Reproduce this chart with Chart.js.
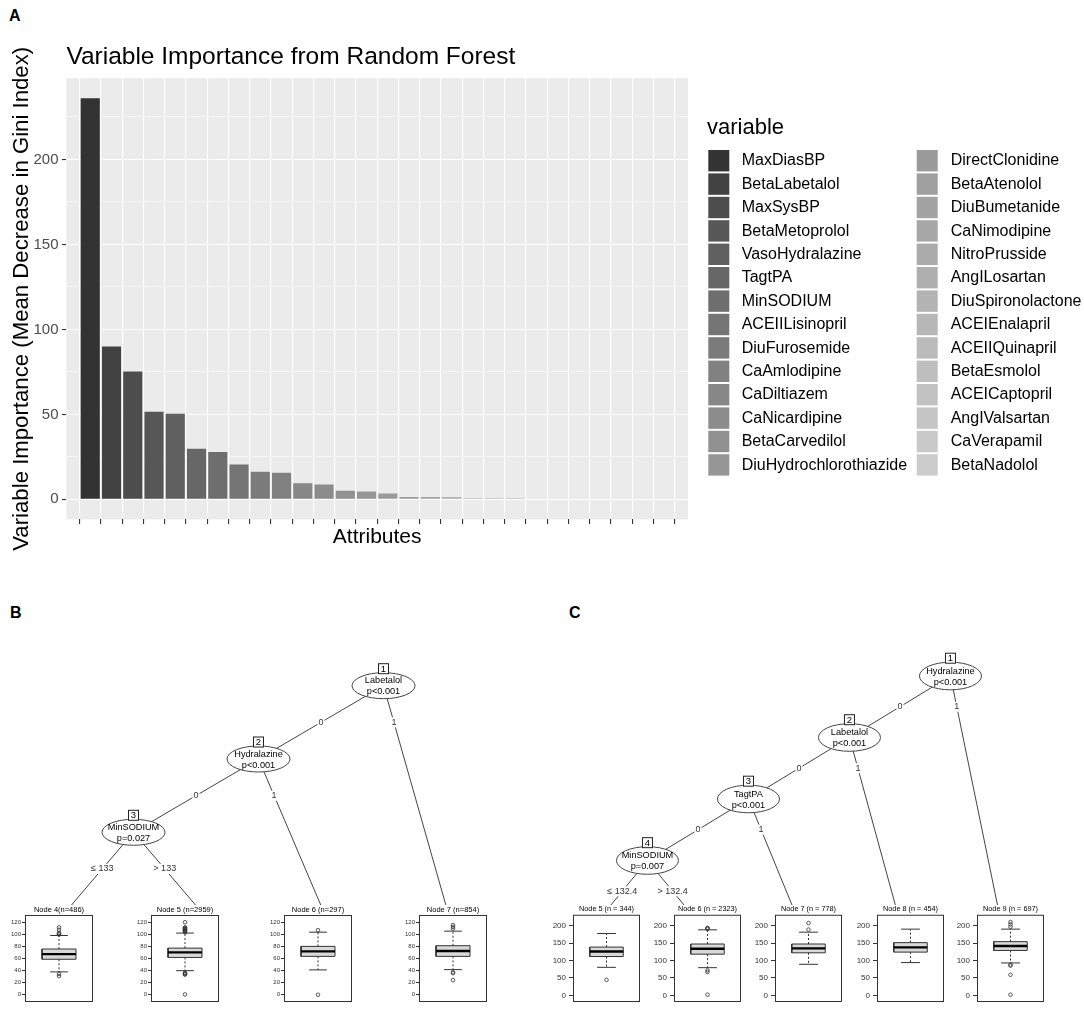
<!DOCTYPE html>
<html>
<head>
<meta charset="utf-8">
<script src="https://cdn.jsdelivr.net/npm/chart.js@4.4.0/dist/chart.umd.min.js"></script>
<style>
  body { margin: 0; background: #fff; width: 1084px; height: 1027px; position: relative; overflow: hidden;
         font-family: "Liberation Sans", Arial, sans-serif; }
  canvas { position: absolute; }
  .panel { position: absolute; font-weight: bold; font-size: 16px; line-height: 16px; color: #000; }
</style>
</head>
<body>
<div class="panel" style="left:9px;top:8px">A</div>
<div class="panel" style="left:10px;top:605px">B</div>
<div class="panel" style="left:569px;top:605px">C</div>
<script>
Chart.defaults.font.family = '"Liberation Sans", Arial, sans-serif';
Chart.defaults.animation = false;

// ---- Panel A data ----
const attributes = [
  'MaxDiasBP', 'BetaLabetalol', 'MaxSysBP', 'BetaMetoprolol', 'VasoHydralazine', 'TagtPA', 'MinSODIUM',
  'ACEIILisinopril', 'DiuFurosemide', 'CaAmlodipine', 'CaDiltiazem', 'CaNicardipine', 'BetaCarvedilol',
  'DiuHydrochlorothiazide', 'DirectClonidine', 'BetaAtenolol', 'DiuBumetanide', 'CaNimodipine',
  'NitroPrusside', 'AngILosartan', 'DiuSpironolactone', 'ACEIEnalapril', 'ACEIIQuinapril', 'BetaEsmolol',
  'ACEICaptopril', 'AngIValsartan', 'CaVerapamil', 'BetaNadolol'
];
const importance = [236, 90, 75.2, 51.6, 50.3, 29.7, 27.8, 20.5, 16.2, 15.6, 9.4, 8.8, 5.1, 4.6, 3.5,
  1.4, 1.4, 1.3, 0.7, 0.7, 0.6, 0, 0, 0, 0, 0, 0, 0];
const gridBreaks = [0, 25, 50, 75, 100, 125, 150, 175, 200, 225];
const labelBreaks = [0, 50, 100, 150, 200];

// ---- Panel B data ----
const nodesB = [
  { id: 1, name: 'Labetalol', p: 'p<0.001', kids: [2, 7], edges: ['0', '1'] },
  { id: 2, name: 'Hydralazine', p: 'p<0.001', kids: [3, 6], edges: ['0', '1'] },
  { id: 3, name: 'MinSODIUM', p: 'p=0.027', kids: [4, 5], edges: ['\u2264 133', '> 133'] }
];
const leafTitlesB = ['Node 4(n=486)', 'Node 5 (n=2959)', 'Node 6 (n=297)', 'Node 7 (n=854)'];
// [lower whisker, q1, median, q3, upper whisker]
const boxStatsB = [
  [38, 59, 67.5, 76, 98.5],
  [40, 62, 70.5, 77.5, 102.5],
  [41.3, 63.8, 72.1, 80.4, 104],
  [41.8, 63.8, 72.6, 81.5, 105.7]
];
const outliersB = [
  [100, 101.5, 103, 108, 112, 34.5, 31],
  [104, 105, 106, 107, 108, 109, 110, 111, 112, 120.5, 36.5, 35.5, 34.5, 33.5, 0.5],
  [107.3, 0],
  [110, 112.8, 116, 37.4, 35.8, 24.2]
];
const yTicksB = [0, 20, 40, 60, 80, 100, 120];

// ---- Panel C data ----
const nodesC = [
  { id: 1, name: 'Hydralazine', p: 'p<0.001', kids: [2, 9], edges: ['0', '1'] },
  { id: 2, name: 'Labetalol', p: 'p<0.001', kids: [3, 8], edges: ['0', '1'] },
  { id: 3, name: 'TagtPA', p: 'p<0.001', kids: [4, 7], edges: ['0', '1'] },
  { id: 4, name: 'MinSODIUM', p: 'p=0.007', kids: [5, 6], edges: ['\u2264 132.4', '> 132.4'] }
];
const leafTitlesC = ['Node 5 (n = 344)', 'Node 6 (n = 2323)', 'Node 7 (n = 778)', 'Node 8 (n = 454)', 'Node 9 (n = 697)'];
const boxStatsC = [
  [80.6, 111.7, 126.2, 138.8, 177.7],
  [79.6, 118.4, 134, 147.6, 188.3],
  [89.3, 122.3, 135, 147.6, 181.6],
  [94.2, 124.3, 137.9, 151.5, 190.3],
  [93.2, 129.1, 141.7, 154.4, 190.3]
];
const outliersC = [
  [44.7],
  [191, 192.5, 194, 71.8, 67, 2],
  [189, 207.8],
  [],
  [197, 204, 210.7, 88.3, 85.4, 59.2, 1.9]
];
const yTicksC = [0, 50, 100, 150, 200];

// --- helpers ---
function makeCanvas(left, top, w, h) {
  const c = document.createElement('canvas');
  c.width = w; c.height = h;
  c.style.left = left + 'px'; c.style.top = top + 'px';
  c.style.width = w + 'px'; c.style.height = h + 'px';
  document.body.appendChild(c);
  return c;
}

// ggplot scale_fill_grey palette
function greyColors(n, start = 0.2, end = 0.8, gamma = 2.2) {
  const a = Math.pow(start, gamma), b = Math.pow(end, gamma);
  return Array.from({ length: n }, (_, i) => {
    const c = Math.round(Math.pow(a + (b - a) * i / (n - 1), 1 / gamma) * 255);
    return `rgb(${c},${c},${c})`;
  });
}
const fills = greyColors(attributes.length);
const yMax = Math.max(...importance);

// --- Panel A ---
const panelBg = {
  id: 'panelBg',
  beforeDraw(chart) {
    const { ctx, chartArea: a } = chart;
    ctx.save();
    ctx.fillStyle = '#ebebeb';
    ctx.fillRect(a.left, a.top, a.width, a.height);
    ctx.restore();
  }
};

const legendPlugin = {
  id: 'varLegend',
  afterDraw(chart) {
    const ctx = chart.ctx;
    const perCol = Math.ceil(attributes.length / 2);
    ctx.save();
    ctx.fillStyle = '#000';
    ctx.font = '22px "Liberation Sans", Arial';
    ctx.textBaseline = 'alphabetic';
    ctx.fillText('variable', 707, 134);
    ctx.font = '16px "Liberation Sans", Arial';
    ctx.textBaseline = 'middle';
    attributes.forEach((name, i) => {
      const col = Math.floor(i / perCol), row = i % perCol;
      const kx = col ? 916.7 : 708.3, ky = 150 + row * 23.4;
      ctx.fillStyle = fills[i];
      ctx.fillRect(kx, ky, 21, 21.4);
      ctx.fillStyle = '#000';
      ctx.fillText(name, col ? 950.7 : 741.7, ky + 10.9);
    });
    ctx.restore();
  }
};

new Chart(makeCanvas(0, 0, 1084, 560), {
  type: 'bar',
  data: {
    datasets: [{
      data: importance.map((v, i) => ({ x: i + 1, y: v })),
      backgroundColor: fills,
      borderWidth: 0,
      categoryPercentage: 1,
      barPercentage: 0.9
    }]
  },
  options: {
    responsive: false,
    layout: { autoPadding: false, padding: { left: 0, right: 1084 - 688, top: 0, bottom: 0 } },
    plugins: {
      legend: { display: false },
      tooltip: { enabled: false },
      title: {
        display: true, text: 'Variable Importance from Random Forest', align: 'start', fullSize: false,
        color: '#000', font: { size: 24.5, weight: 'normal' }, padding: { top: 43, bottom: 5.8 }
      }
    },
    scales: {
      x: {
        type: 'linear', min: 0.4, max: attributes.length + 0.6,
        afterBuildTicks: s => { s.ticks = attributes.map((a, i) => ({ value: i + 1 })); },
        ticks: { callback: () => '', padding: 0 },
        grid: { color: '#fff', lineWidth: 1.1, tickColor: '#333', tickLength: 4.5, tickWidth: 1.1 },
        border: { display: false },
        title: { display: true, text: 'Attributes', color: '#000', font: { size: 21 }, padding: { top: 0, bottom: 10 } },
        afterFit: s => { s.height = 40.6; s.paddingLeft = 0; s.paddingRight = 0; }
      },
      y: {
        min: -0.05 * yMax, max: 1.05 * yMax,
        afterBuildTicks: s => { s.ticks = gridBreaks.map(v => ({ value: v })); },
        ticks: {
          callback: v => labelBreaks.includes(v) ? String(v) : '',
          color: '#4d4d4d', font: { size: 15 }, padding: 3.4
        },
        grid: {
          color: '#fff',
          lineWidth: c => labelBreaks.includes(c.tick.value) ? 1.1 : 0.55,
          tickColor: c => labelBreaks.includes(c.tick.value) ? '#333' : 'rgba(0,0,0,0)',
          tickLength: 4.5, tickWidth: 1.1
        },
        border: { display: false },
        title: {
          display: true, text: 'Variable Importance (Mean Decrease in Gini Index)', color: '#000',
          font: { size: 22.2 }, padding: { top: 8.6, bottom: 0 }
        },
        afterFit: s => { s.width = 66.4; s.paddingTop = 0; s.paddingBottom = 0; }
      }
    }
  },
  plugins: [panelBg, legendPlugin]
});

// --- Trees ---
function layoutTree(inner) {
  const byId = {};
  inner.forEach(n => { byId[n.id] = n; });
  const pos = {};
  let leafCount = 0, maxDepth = 0;
  function walk(id, depth) {
    if (!byId[id]) {
      leafCount++;
      pos[id] = { x: leafCount, depth, leaf: true, first: leafCount, last: leafCount };
      return pos[id];
    }
    const n = byId[id];
    const l = walk(n.kids[0], depth + 1), r = walk(n.kids[1], depth + 1);
    maxDepth = Math.max(maxDepth, depth + 1);
    pos[id] = { x: (l.last + r.first) / 2, depth, first: l.first, last: r.last };
    return pos[id];
  }
  walk(inner[0].id, 0);
  Object.values(pos).forEach(p => { p.y = p.leaf ? maxDepth : p.depth; });
  return pos;
}

function drawTree(canvas, inner, xRange, yRange, rx, ry) {
  const pos = layoutTree(inner);
  const edges = [];
  inner.forEach(n => n.kids.forEach((k, j) => edges.push({ from: pos[n.id], to: pos[k], label: n.edges[j] })));

  const treePlugin = {
    id: 'treeNodes',
    afterDatasetsDraw(chart) {
      const { ctx, scales: { x, y } } = chart;
      ctx.save();
      ctx.font = '9px "Liberation Sans", Arial';
      ctx.textAlign = 'center';
      ctx.textBaseline = 'middle';
      // edge labels sit halfway between the parent level and the next one
      edges.forEach(e => {
        const ly = e.from.depth + 0.5;
        const lx = e.from.x + (e.to.x - e.from.x) * (0.5 / (e.to.y - e.from.y));
        const px = x.getPixelForValue(lx), py = y.getPixelForValue(ly);
        const w = ctx.measureText(e.label).width + 2;
        ctx.fillStyle = '#fff';
        ctx.fillRect(px - w / 2, py - 5, w, 10);
        ctx.fillStyle = '#333';
        ctx.fillText(e.label, px, py);
      });
      // inner nodes
      inner.forEach(n => {
        const cx = x.getPixelForValue(pos[n.id].x), cy = y.getPixelForValue(pos[n.id].y);
        ctx.beginPath();
        ctx.ellipse(cx, cy, rx, ry, 0, 0, Math.PI * 2);
        ctx.fillStyle = '#fff';
        ctx.fill();
        ctx.strokeStyle = '#444';
        ctx.lineWidth = 1;
        ctx.stroke();
        ctx.fillStyle = '#000';
        ctx.font = '9.2px "Liberation Sans", Arial';
        ctx.fillText(n.name, cx, cy - 5);
        ctx.fillText(n.p, cx, cy + 6);
        const by = cy - ry - 4;
        ctx.fillStyle = '#fff';
        ctx.fillRect(cx - 5, by - 5, 10, 10);
        ctx.strokeStyle = '#222';
        ctx.strokeRect(cx - 5, by - 5, 10, 10);
        ctx.fillStyle = '#000';
        ctx.font = '9.5px "Liberation Sans", Arial';
        ctx.fillText(String(n.id), cx, by + 0.5);
      });
      ctx.restore();
    }
  };

  new Chart(canvas, {
    type: 'scatter',
    data: {
      datasets: [
        ...edges.map(e => ({
          type: 'line',
          data: [{ x: e.from.x, y: e.from.y }, { x: e.to.x, y: e.to.y }],
          borderColor: '#444', borderWidth: 1, pointRadius: 0, pointHoverRadius: 0
        })),
        { data: inner.map(n => ({ x: pos[n.id].x, y: pos[n.id].y })), pointRadius: 0, pointHoverRadius: 0 }
      ]
    },
    options: {
      responsive: false,
      layout: { autoPadding: false, padding: 0 },
      plugins: { legend: { display: false }, tooltip: { enabled: false } },
      scales: {
        x: { display: false, min: xRange[0], max: xRange[1] },
        y: { display: false, reverse: true, min: yRange[0], max: yRange[1] }
      }
    },
    plugins: [treePlugin]
  });
}

drawTree(makeCanvas(0, 650, 540, 255), nodesB, [0.432, 4.752], [-0.487, 2.992], 31.5, 13);
drawTree(makeCanvas(540, 650, 544, 255), nodesC, [0.436, 5.822], [-0.423, 3.724], 31, 13.8);

// --- Boxplot leaves ---
const framePlugin = {
  id: 'frame',
  afterDraw(chart) {
    const { ctx, chartArea: a } = chart;
    ctx.save();
    ctx.strokeStyle = '#333';
    ctx.lineWidth = 1;
    ctx.strokeRect(a.left + 0.5, a.top + 0.5, a.width - 1, a.height - 1);
    ctx.restore();
  }
};

function drawLeaf(canvas, title, st, outs, yLim, ticks, o) {
  const [lo, q1, med, q3, hi] = st;
  const seg = (pts, extra) => Object.assign({
    type: 'line', data: pts, borderColor: '#333', borderWidth: 1,
    pointRadius: 0, pointHoverRadius: 0, fill: false
  }, extra);
  new Chart(canvas, {
    type: 'scatter',
    data: {
      datasets: [
        seg([{ x: -0.5, y: med }, { x: 0.5, y: med }], { borderColor: '#000', borderWidth: 2.4 }),
        seg([{ x: -o.cap, y: hi }, { x: o.cap, y: hi }]),
        seg([{ x: -o.cap, y: lo }, { x: o.cap, y: lo }]),
        seg([{ x: 0, y: q3 }, { x: 0, y: hi }], { borderDash: [2, 2] }),
        seg([{ x: 0, y: q1 }, { x: 0, y: lo }], { borderDash: [2, 2] }),
        seg(outs.map(v => ({ x: 0, y: v })), {
          showLine: false, pointRadius: 1.8, pointBorderWidth: 0.8,
          pointBorderColor: '#333', pointBackgroundColor: 'rgba(0,0,0,0)'
        }),
        seg([{ x: -0.5, y: q1 }, { x: 0.5, y: q1 }, { x: 0.5, y: q3 }, { x: -0.5, y: q3 }, { x: -0.5, y: q1 }],
          { fill: 'shape', backgroundColor: '#d9d9d9' })
      ]
    },
    options: {
      responsive: false,
      layout: { autoPadding: false, padding: { right: 1, bottom: 0 } },
      plugins: {
        legend: { display: false }, tooltip: { enabled: false },
        title: {
          display: true, text: title, fullSize: false, color: '#000',
          font: { size: o.titleSize, weight: 'normal' }, padding: { top: 0, bottom: 1 }
        }
      },
      scales: {
        x: { display: false, min: -1, max: 1 },
        y: {
          min: yLim[0], max: yLim[1],
          afterBuildTicks: s => { s.ticks = ticks.map(v => ({ value: v })); },
          ticks: { color: '#333', font: { size: o.tickSize }, padding: o.tickPad },
          grid: { drawOnChartArea: false, color: '#333', tickLength: o.tickLen },
          border: { display: false },
          afterFit: s => { s.width = o.axisW; s.paddingTop = 0; s.paddingBottom = 0; }
        }
      }
    },
    plugins: [framePlugin]
  });
}

// partykit pads the shared y range by 10% on each side
function boxRange(stats, outs) {
  const all = stats.flat().concat(outs.flat());
  const mn = Math.min(...all), mx = Math.max(...all), d = mx - mn;
  return [mn - 0.1 * d, mx + 0.1 * d];
}

const frameLeftB = [25, 150.7, 283.7, 418.7];
const optB = { axisW: 24, cap: 0.26, titleSize: 7.5, tickSize: 6, tickPad: 1, tickLen: 3 };
const limB = boxRange(boxStatsB, outliersB);
leafTitlesB.forEach((t, i) => {
  drawLeaf(makeCanvas(frameLeftB[i] - optB.axisW, 905, 68 + optB.axisW + 1, 97),
    t, boxStatsB[i], outliersB[i], limB, yTicksB, optB);
});

const frameLeftC = [573.3, 674.3, 775.3, 876.7, 977.3];
const optC = { axisW: 32, cap: 0.28, titleSize: 7.3, tickSize: 8, tickPad: 3, tickLen: 4 };
const limC = boxRange(boxStatsC, outliersC);
leafTitlesC.forEach((t, i) => {
  drawLeaf(makeCanvas(frameLeftC[i] - optC.axisW, 905, 67 + optC.axisW + 1, 97),
    t, boxStatsC[i], outliersC[i], limC, yTicksC, optC);
});
</script>
</body>
</html>
